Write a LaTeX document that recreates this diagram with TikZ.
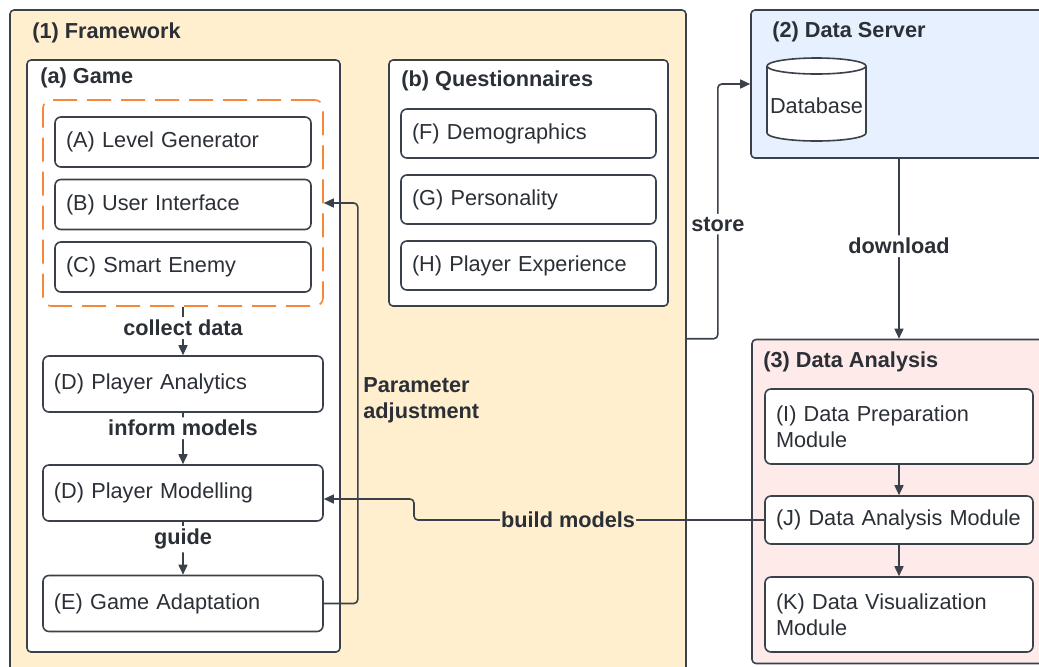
\documentclass[tikz,border=0pt]{standalone}
\usepackage{fontspec}
\setmainfont{Liberation Sans}
\usetikzlibrary{arrows.meta}

\definecolor{ink}{HTML}{3A414B}
\definecolor{txt}{HTML}{2B2F36}
\definecolor{frameback}{HTML}{FFEFCF}
\definecolor{serverback}{HTML}{E6F0FF}
\definecolor{analysisback}{HTML}{FFEAEA}
\definecolor{dashorange}{HTML}{F5883A}

\tikzset{
  container/.style={draw=ink, line width=0.8pt, rounded corners=2pt, inner sep=0pt},
  module/.style={draw=ink, line width=0.8pt, fill=white, rounded corners=3pt,
    align=left, inner xsep=5.5pt, inner ysep=0pt, text=txt},
  gamemod/.style={module, text width=117pt, minimum height=25pt},
  loopmod/.style={module, text width=129pt, minimum height=28pt},
  questmod/.style={module, text width=116.5pt, minimum height=24.5pt},
  anamod/.style={module, text width=123pt, minimum height=#1},
  heading/.style={anchor=west, font=\bfseries, text=txt, inner sep=0pt},
  flowlbl/.style={font=\bfseries, text=txt, fill=white, inner sep=1.5pt},
  flow/.style={draw=ink, line width=0.8pt, rounded corners=2pt,
    -{Triangle[length=5pt,width=4.5pt]}},
}

\begin{document}
\fontsize{10.85pt}{13pt}\selectfont
\begin{tikzpicture}[x=0.5pt, y=-0.5pt, line join=round]
  \useasboundingbox (0,0) rectangle (1039,666);
  \clip (0,0) rectangle (1039,666);

  % (1) framework with game and questionnaires
  \node[container, fill=frameback, minimum width=338pt, minimum height=340pt] (frame) at (348,350) {};
  \node[heading] at (32,33) {(1) Framework};

  \node[container, fill=white, minimum width=156.5pt, minimum height=296pt] (game) at (183.5,356) {};
  \node[heading] at (40,78) {(a) Game};
  \node[draw=dashorange, line width=0.8pt, dash pattern=on 12pt off 5pt, rounded corners=4pt,
    minimum width=140pt, minimum height=103pt] (core) at (183,203) {};
  \node[gamemod] (levelgen) at (183,142) {(A) Level Generator};
  \node[gamemod] (ui) at (183,204.5) {(B) User Interface};
  \node[gamemod] (enemy) at (183,267) {(C) Smart Enemy};

  \node[loopmod] (analytics) at (183,384) {(D) Player Analytics};
  \node[loopmod] (modelling) at (183,493) {(D) Player Modelling};
  \node[loopmod] (adaptation) at (183,603.5) {(E) Game Adaptation};

  \node[container, fill=white, minimum width=139.5pt, minimum height=123pt] (quest) at (528.5,183) {};
  \node[heading] at (401,81) {(b) Questionnaires};
  \node[questmod] (demo) at (528.5,133.5) {(F) Demographics};
  \node[questmod] (person) at (528.5,199.5) {(G) Personality};
  \node[questmod] (experience) at (528.5,265.5) {(H) Player Experience};

  % (2) data server
  \node[container, fill=serverback, minimum width=154.5pt, minimum height=74pt] (server) at (905.5,84) {};
  \node[heading] at (772,32) {(2) Data Server};
  \draw[ink, line width=0.8pt, fill=white] (767,66) -- (767,133)
    arc[start angle=180, end angle=0, x radius=49.5, y radius=8] -- (866,66)
    arc[start angle=0, end angle=-180, x radius=49.5, y radius=8] -- cycle;
  \draw[ink, line width=0.8pt] (767,66) arc[start angle=180, end angle=0, x radius=49.5, y radius=8];
  \node[text=txt, inner sep=0pt] (db) at (816.5,106) {Database};

  % (3) data analysis
  \node[container, fill=analysisback, minimum width=154pt, minimum height=162pt] (analysis) at (906,501.5) {};
  \node[heading] at (763,362) {(3) Data Analysis};
  \node[anamod=37.5pt] (prep) at (899,426.5) {(I) Data Preparation\\Module};
  \node[anamod=24pt] (analysismod) at (899,520) {(J) Data Analysis Module};
  \node[anamod=37.5pt] (visual) at (899,614.5) {(K) Data Visualization\\Module};

  % connectors
  \draw[flow] (core.south) -- node[flowlbl, pos=0.44] {collect data} (analytics.north);
  \draw[flow] (analytics.south) -- node[flowlbl, pos=0.3] {inform models} (modelling.north);
  \draw[flow] (modelling.south) -- node[flowlbl, pos=0.33] {guide} (adaptation.north);
  \draw[flow] (adaptation.east) -- ++(34,0) |- (core.east);
  \node[heading, align=left] at (363,400) {Parameter\\adjustment};

  \draw[flow] (prep.south) -- (analysismod.north);
  \draw[flow] (analysismod.south) -- (visual.north);
  \draw[flow] (server.south -| prep.north) -- node[flowlbl, pos=0.486] {download} (analysis.north -| prep.north);
  \draw[flow] (frame.east |- analysis.north) -- ++(31,0) coordinate (storebend)
    -- node[flowlbl, pos=0.45] {store} (storebend |- server.west) -- (server.west);
  \draw[flow] (analysismod.west) -- node[flowlbl, fill=frameback, pos=0.56, inner sep=0.5pt] {build models} (414,520)
    |- ([yshift=-3pt]modelling.east);
\end{tikzpicture}
\end{document}
